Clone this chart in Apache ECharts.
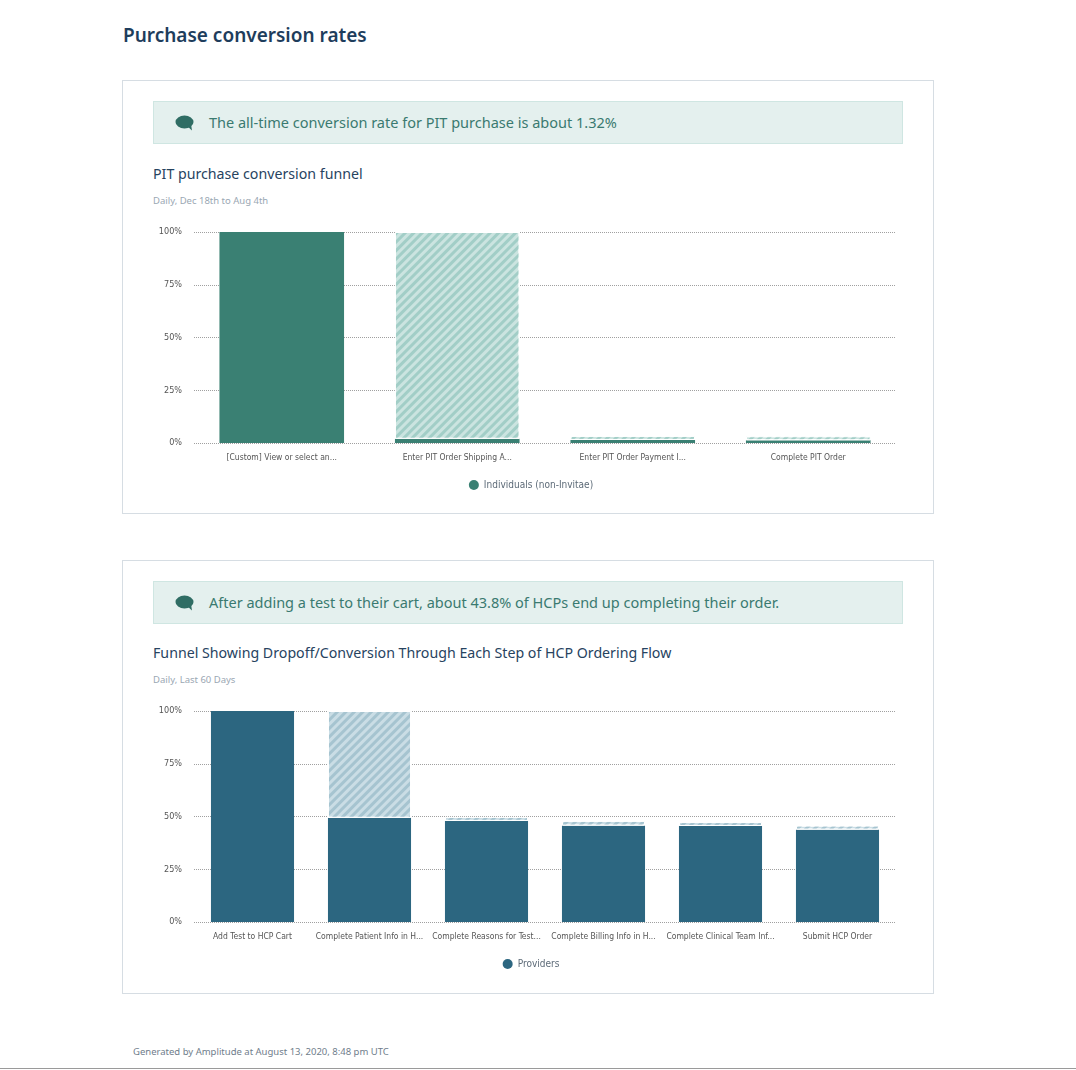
<!DOCTYPE html>
<html>
    <head>
        <meta charset="UTF-8">
        <title>Purchase conversion rates</title>
        <script type="text/javascript" src="https://cdn.jsdelivr.net/npm/echarts@6/dist/echarts.min.js"></script>
        <style>
            body { margin: 0; width: 1076px; height: 1070px; overflow: hidden; background: #fff; font-family: 'Noto Sans', 'Open Sans', sans-serif; position: relative; }
            .page-title { position: absolute; left: 123px; top: 22px; font-size: 19px; font-weight: 600; color: #1e3d5c; }
            .card { position: absolute; left: 122px; width: 812px; height: 434px; border: 1px solid #d6dde3; box-sizing: border-box; }
            .insight { position: absolute; left: 30px; top: 20px; width: 750px; height: 43px; background: #e4f0ee; border: 1px solid #cfe6e2; box-sizing: border-box; color: #3a7a70; font-size: 14.5px; line-height: 41px; padding-left: 85px; }
            .insight svg { position: absolute; left: 21px; top: 13px; }
            .chart-title { position: absolute; left: 30px; font-size: 14.2px; color: #27435f; }
            .chart-sub { position: absolute; left: 30px; font-size: 9.5px; color: #9aa7b3; }
            .chart { position: absolute; left: 18px; width: 780px; height: 290px; }
            .footer { position: absolute; left: 133px; top: 1045px; font-size: 9.5px; color: #6f7d8b; }
            .bottom-line { position: absolute; left: 0; top: 1068px; width: 1076px; height: 1px; background: #9a9a9a; }
        </style>
    </head>
    <body>
        <div class="page-title">Purchase conversion rates</div>

        <div class="card" style="top: 80px;">
            <div class="insight">
                <svg width="20" height="16" viewBox="0 0 20 16"><ellipse cx="9.5" cy="7" rx="9" ry="6.5" fill="#2f6d64"/><path d="M12 11 L17 15.5 L16 9 Z" fill="#2f6d64"/></svg>
                <span style="margin-left: -30px;">The all-time conversion rate for PIT purchase is about 1.32%</span>
            </div>
            <div class="chart-title" style="top: 83px;">PIT purchase conversion funnel</div>
            <div class="chart-sub" style="top: 113px;">Daily, Dec 18th to Aug 4th</div>
            <div class="chart" id="chart1" style="top: 134px;"></div>
        </div>

        <div class="card" style="top: 560px;">
            <div class="insight">
                <svg width="20" height="16" viewBox="0 0 20 16"><ellipse cx="9.5" cy="7" rx="9" ry="6.5" fill="#2f6d64"/><path d="M12 11 L17 15.5 L16 9 Z" fill="#2f6d64"/></svg>
                <span style="margin-left: -30px;">After adding a test to their cart, about 43.8% of HCPs end up completing their order.</span>
            </div>
            <div class="chart-title" style="top: 82px;">Funnel Showing Dropoff/Conversion Through Each Step of HCP Ordering Flow</div>
            <div class="chart-sub" style="top: 112px;">Daily, Last 60 Days</div>
            <div class="chart" id="chart2" style="top: 133px;"></div>
        </div>

        <div class="footer">Generated by Amplitude at August 13, 2020, 8:48 pm UTC</div>
        <div class="bottom-line"></div>
    </body>
    <script type="text/javascript">
        // PIT funnel
        var pitSteps = ['[Custom] View or select an...', 'Enter PIT Order Shipping A...', 'Enter PIT Order Payment I...', 'Complete PIT Order'];
        var pitConverted = [100, 2.0, 1.45, 1.32];
        var pitDropoff = ['-', 98.0, 0.55, 0.13];

        // HCP funnel
        var hcpSteps = ['Add Test to HCP Cart', 'Complete Patient Info in H...', 'Complete Reasons for Test...', 'Complete Billing Info in H...', 'Complete Clinical Team Inf...', 'Submit HCP Order'];
        var hcpConverted = [100, 49.4, 47.9, 45.7, 45.5, 43.8];
        var hcpDropoff = ['-', 50.6, 1.5, 2.2, 0.2, 1.7];

        var yTicks = [0, 25, 50, 75, 100];

        var narrow = "'Liberation Sans Narrow', 'DejaVu Sans Condensed', sans-serif";

        function funnelOption(steps, converted, dropoff, name, dark, light, stripe) {
            return {
                animation: false,
                textStyle: { fontFamily: narrow },
                grid: { left: 53, right: 25, top: 17, bottom: 62 },
                legend: {
                    data: [name],
                    top: 260,
                    left: 'center',
                    icon: 'circle',
                    itemWidth: 10,
                    itemHeight: 10,
                    itemGap: 8,
                    textStyle: { fontFamily: narrow, fontSize: 10, color: '#5d6b78' }
                },
                xAxis: {
                    type: 'category',
                    data: steps,
                    axisLine: { show: false },
                    axisTick: { show: false },
                    axisLabel: { interval: 0, margin: 10, fontSize: 8.5, color: '#555', fontFamily: narrow }
                },
                yAxis: {
                    type: 'value',
                    min: yTicks[0],
                    max: yTicks[yTicks.length - 1],
                    interval: 25,
                    axisLabel: { formatter: '{value}%', fontSize: 9, color: '#555', margin: 12, fontFamily: narrow },
                    splitLine: { lineStyle: { type: [1, 1], color: '#a0a0a0', width: 1 } }
                },
                series: [
                    {
                        name: name,
                        type: 'bar',
                        stack: 'funnel',
                        barWidth: '71%',
                        data: converted,
                        itemStyle: { color: dark }
                    },
                    {
                        name: 'Dropoff',
                        type: 'bar',
                        stack: 'funnel',
                        barWidth: '71%',
                        barMinHeight: 4,
                        data: dropoff,
                        itemStyle: {
                            color: light,
                            borderColor: '#fff',
                            borderWidth: 1,
                            decal: {
                                symbol: 'rect',
                                symbolSize: 1,
                                dashArrayX: [1, 0],
                                dashArrayY: [2.5, 2.5],
                                rotation: -Math.PI / 4,
                                color: stripe
                            }
                        }
                    }
                ]
            };
        }

        var chart1 = echarts.init(document.getElementById('chart1'));
        chart1.setOption(funnelOption(pitSteps, pitConverted, pitDropoff, 'Individuals (non-Invitae)', '#3a8073', '#cbe4e0', '#a2cec7'));

        var chart2 = echarts.init(document.getElementById('chart2'));
        chart2.setOption(funnelOption(hcpSteps, hcpConverted, hcpDropoff, 'Providers', '#2c6680', '#cadde5', '#a6c4d0'));
    </script>
</html>
